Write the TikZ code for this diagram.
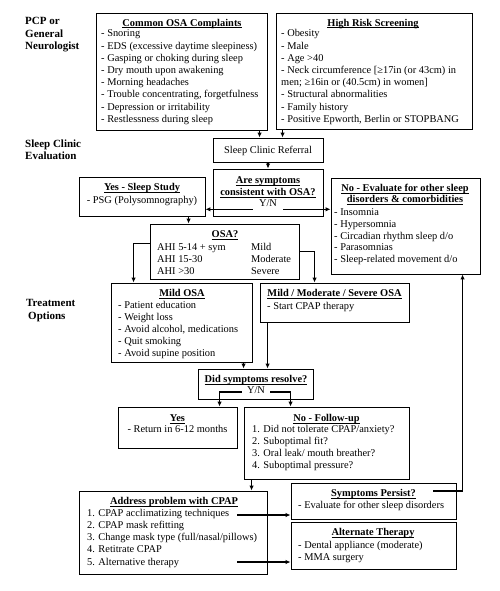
\documentclass[tikz,border=0pt]{standalone}
\usepackage{fontspec}
\setmainfont{Liberation Serif}
\usetikzlibrary{arrows.meta,fit}
\newsavebox\ulbox
\newcommand\ulx[1]{\sbox\ulbox{#1}\rlap{\rule[-1.6pt]{\wd\ulbox}{0.6pt}}\usebox\ulbox}
\newcommand\lst[5]{\foreach \itm [count=\i] in {#5} {\node[txt, anchor=base west] (#1\i) at (#2,{#3+#4*(\i-1)}) {\itm};}}
\begin{document}
\begin{tikzpicture}[x=1pt,y=-1pt,
  box/.style={draw, line width=0.9pt, inner sep=0pt},
  txt/.style={inner sep=0pt, font=\fontsize{10.4}{12}\selectfont},
  ttl/.style={inner sep=0pt, font=\fontsize{10.4}{12}\selectfont\bfseries, anchor=base},
  side/.style={inner sep=0pt, font=\fontsize{11}{13}\selectfont\bfseries, anchor=base west},
  arr/.style={line width=1.1pt, -{Latex[length=5pt,width=4.5pt]}}]
\useasboundingbox (0,0) rectangle (500,591);

% boxes
\node[box, fit={(96,13) (267,130)}] (common) {};
\node[box, fit={(276,13) (472,129)}] (risk) {};
\node[box, fit={(213,138) (323,162)}] (ref) {};
\node[box, fit={(213,169) (323,216)}] (cons) {};
\node[box, fit={(79,177) (205,216)}] (yes) {};
\node[box, fit={(331,178) (480,274)}] (noeval) {};
\node[box, fit={(150,224) (299,279)}] (osa) {};
\node[box, fit={(111,283) (252,362)}] (mild) {};
\node[box, fit={(260,283) (409,322)}] (mms) {};
\node[box, fit={(198,369) (313,399)}] (res) {};
\node[box, fit={(118,407) (237,448)}] (yesr) {};
\node[box, fit={(244,407) (409,479)}] (nofu) {};
\node[box, fit={(79,491) (267,574)}] (addr) {};
\node[box, fit={(291,483) (456,519)}] (persist) {};
\node[box, fit={(291,522) (456,569)}] (alt) {};

% side labels
\node[side] (l1) at (25,24.5) {PCP or};
\node[side] (l2) at (25,37.3) {General};
\node[side] (l3) at (25,50) {Neurologist};
\node[side] (l4) at (25,147) {Sleep Clinic};
\node[side] (l5) at (25,159.7) {Evaluation};
\node[side] (l6) at (26,306) {Treatment};
\node[side] (l7) at (28,319) {Options};

% texts
\node[ttl] (ct) at (182,26.5) {\ulx{Common OSA Complaints}};
\lst{c}{101}{37}{12.2}{- Snoring, - EDS (excessive daytime sleepiness), - Gasping or choking during sleep, - Dry mouth upon awakening, - Morning headaches, {- Trouble concentrating, forgetfulness}, - Depression or irritability, - Restlessness during sleep}

\node[ttl] (rt) at (373,26.5) {\ulx{High Risk Screening}};
\lst{r}{281}{37}{12.2}{- Obesity, - Male, - Age >40, {- Neck circumference [≥17in (or 43cm) in}, {men; ≥16in or (40.5cm) in women]}, - Structural abnormalities, - Family history, {- Positive Epworth, Berlin or STOPBANG}}

\node[txt, anchor=base] (reft) at (268,153.5) {Sleep Clinic Referral};

\node[ttl] (k1) at (268,183.5) {\ulx{Are symptoms}};
\node[ttl] (k2) at (268,195.5) {\ulx{consistent with OSA?}};
\node[txt, anchor=base] (yn1) at (268,206.8) {Y/N};

\node[ttl] (y1) at (142,190.5) {\ulx{Yes - Sleep Study}};
\node[txt, anchor=base] (y2) at (142,203.5) {- PSG (Polysomnography)};

\node[ttl] (n1) at (405,191.5) {\ulx{No - Evaluate for other sleep}};
\node[ttl] (n2) at (405,202.8) {\ulx{disorders \& comorbidities}};
\lst{nl}{334}{215.2}{11.9}{- Insomnia, - Hypersomnia, - Circadian rhythm sleep d/o, - Parasomnias, - Sleep-related movement d/o}

\node[ttl] (o0) at (225,237.5) {\ulx{OSA?}};
\lst{oa}{157}{250.5}{12}{AHI 5-14 + sym, AHI 15-30, AHI >30}
\lst{ob}{251}{250.5}{12}{Mild, Moderate, Severe}

\node[ttl] (m0) at (182,296.5) {\ulx{Mild OSA}};
\lst{m}{118}{308.5}{11.95}{- Patient education, - Weight loss, {- Avoid alcohol, medications}, - Quit smoking, - Avoid supine position}

\node[ttl] (mm0) at (334.5,296.5) {\ulx{Mild / Moderate / Severe OSA}};
\node[txt, anchor=base west] (mm1) at (267,309.5) {- Start CPAP therapy};

\node[ttl] (rs0) at (256,382.5) {\ulx{Did symptoms resolve?}};
\node[txt, anchor=base] (yn2) at (256,393.5) {Y/N};

\node[ttl] (ys0) at (177.5,421.5) {\ulx{Yes}};
\node[txt, anchor=base] (ys1) at (177.5,432.5) {- Return in 6-12 months};

\node[ttl] (nf0) at (326.5,421.5) {\ulx{No - Follow-up}};
\lst{nf}{252}{432.5}{12.1}{1. Did not tolerate CPAP/anxiety?, 2. Suboptimal fit?, 3. Oral leak/ mouth breather?, 4. Suboptimal pressure?}

\node[ttl] (ad0) at (174,504.5) {\ulx{Address problem with CPAP}};
\lst{ad}{87}{516.2}{12.25}{1. CPAP acclimatizing techniques, 2. CPAP mask refitting, 3. Change mask type (full/nasal/pillows), 4. Retitrate CPAP, 5. Alternative therapy}

\node[ttl] (ps0) at (373.5,496.5) {\ulx{Symptoms Persist?}};
\node[txt, anchor=base west] (ps1) at (298,508.5) {- Evaluate for other sleep disorders};

\node[ttl] (al0) at (373,535.5) {\ulx{Alternate Therapy}};
\lst{al}{298}{548.5}{12}{- Dental appliance (moderate), - MMA surgery}

% connectors
\draw[arr] ([xshift=164pt]common.south west) coordinate (a0) -- (a0 |- ref.north);
\draw[arr] ([xshift=7pt]risk.south west) coordinate (a1) -- (a1 |- ref.north);
\draw[arr] (ref.south) -- (cons.north);
\coordinate (ynl) at ([xshift=-6pt,yshift=-2.5pt]yn1.base west);
\coordinate (ynr) at ([xshift=6pt,yshift=-2.5pt]yn1.base east);
\draw[arr] (ynl) -- (ynl -| yes.east);
\draw[arr] (ynr) -- (ynr -| noeval.west);
\draw[arr] ([xshift=110pt]yes.south west) coordinate (d0) -- (d0 |- osa.north);
\coordinate (e0) at ([yshift=-20pt]osa.north west);
\coordinate (e1) at ([yshift=-28pt]osa.north east);
\draw[arr] (e0) -| ([xshift=23pt]mild.north west);
\draw[arr] (e1) -| ([xshift=55pt]mms.north west);
\draw[arr] ([xshift=133pt]mild.south west) coordinate (f0) -- (f0 |- res.north);
\draw[arr] ([xshift=8pt]mms.south west) coordinate (f1) -- (f1 |- res.north);
\coordinate (g0) at ([xshift=-5pt,yshift=1.5pt]yn2.base west);
\coordinate (g1) at ([xshift=5pt,yshift=1.5pt]yn2.base east);
\draw[arr] (g0) -| ([xshift=102pt]yesr.north west);
\draw[arr] (g1) -| ([xshift=47pt]nofu.north west);
\draw[arr] ([xshift=8pt]nofu.south west) coordinate (h0) -- (h0 |- addr.north);
\coordinate (s1) at (237,515);
\coordinate (s2) at (237,562);
\draw[arr] (s1) -- (s1 -| persist.west);
\draw[arr] (s2) -- (s2 -| alt.west);
\coordinate (p1) at (433,491);
\draw[arr] (p1) -| ([xshift=132pt]noeval.south west);
\end{tikzpicture}
\end{document}
